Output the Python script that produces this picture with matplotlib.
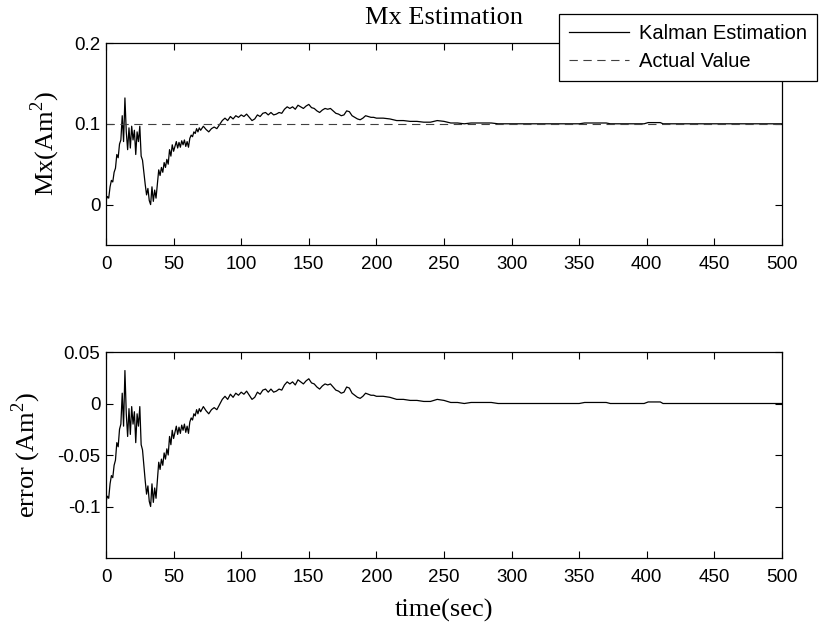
import numpy as np
import matplotlib.pyplot as plt

# time axis (sec) and Kalman estimate of Mx (Am^2)
t = [0, 1, 2, 3, 4, 5, 6, 7, 8, 9, 10, 11, 12, 13, 14, 15, 16, 17, 18, 19,
     20, 21, 22, 23, 24, 25, 26, 27, 28, 29, 30, 31, 32, 33, 34, 35, 36, 37, 38, 39,
     40, 41, 42, 43, 44, 45, 46, 47, 48, 49, 50, 51, 52, 53, 54, 55, 56, 57, 58, 59,
     60, 61, 62, 63, 64, 65, 66, 67, 68, 69, 70,
     72, 74, 76, 78, 80, 82, 84, 86, 88, 90, 92, 94, 96, 98, 100,
     102, 104, 106, 108, 110, 112, 114, 116, 118, 120, 122, 124, 126, 128, 130,
     132, 134, 136, 138, 140, 142, 144, 146, 148, 150, 152, 154, 156, 158, 160,
     162, 164, 166, 168, 170, 172, 174, 176, 178, 180, 182, 184, 186, 188, 190,
     192, 194, 196, 198, 200, 205, 210, 215, 220, 225, 230, 235, 240, 245, 250,
     255, 260, 265, 270, 275, 280, 285, 290, 300, 320, 340, 350, 354, 370, 373,
     398, 401, 410, 412, 450, 500]
mx = [0.005, 0.010, 0.008, 0.022, 0.030, 0.028, 0.040, 0.045, 0.062, 0.058,
      0.075, 0.080, 0.110, 0.078, 0.132, 0.090, 0.068, 0.095, 0.070, 0.097,
      0.080, 0.092, 0.062, 0.090, 0.078, 0.097, 0.060, 0.055, 0.040, 0.025,
      0.012, 0.020, 0.005, 0.000, 0.022, 0.004, 0.018, 0.008, 0.025, 0.043,
      0.036, 0.046, 0.040, 0.052, 0.046, 0.056, 0.050, 0.068, 0.060, 0.074,
      0.066, 0.072, 0.078, 0.070, 0.077, 0.071, 0.079, 0.074, 0.080, 0.072,
      0.078, 0.071, 0.082, 0.086, 0.084, 0.090, 0.088, 0.094, 0.090, 0.095, 0.092,
      0.097, 0.093, 0.090, 0.094, 0.096, 0.094, 0.099, 0.104, 0.107, 0.104,
      0.109, 0.106, 0.110, 0.108, 0.111,
      0.109, 0.112, 0.108, 0.104, 0.106, 0.111, 0.109, 0.113, 0.114, 0.111,
      0.114, 0.111, 0.112, 0.114, 0.113,
      0.118, 0.121, 0.119, 0.121, 0.118, 0.123, 0.121, 0.119, 0.122, 0.124,
      0.120, 0.119, 0.116, 0.114, 0.117,
      0.119, 0.118, 0.119, 0.116, 0.113, 0.112, 0.110, 0.111, 0.116, 0.115,
      0.110, 0.108, 0.106, 0.105, 0.107,
      0.110, 0.109, 0.108, 0.108, 0.107, 0.107, 0.106, 0.104, 0.104, 0.103,
      0.103, 0.102, 0.102, 0.104, 0.103,
      0.101, 0.101, 0.100, 0.101, 0.101, 0.101, 0.101, 0.100, 0.100, 0.100,
      0.100, 0.100, 0.101, 0.101, 0.100,
      0.100, 0.1015, 0.1015, 0.100, 0.100, 0.100]
actual = 0.1

t = np.array(t)
mx = np.array(mx)
err = mx - actual

plt.rcParams['font.family'] = 'Liberation Sans'
plt.rcParams['axes.unicode_minus'] = False
plt.rcParams['lines.scale_dashes'] = False
plt.rcParams['mathtext.fontset'] = 'custom'
plt.rcParams['mathtext.rm'] = 'Liberation Serif'

serif = {'family': 'Liberation Serif', 'size': 19}

fig = plt.figure(figsize=(8.19, 6.24), dpi=100)
ax1 = fig.add_axes([106/819, 1-245/624, 676/819, 202/624])
ax2 = fig.add_axes([106/819, 1-558/624, 676/819, 206/624])

ax1.plot(t, mx, color='black', lw=0.9, label='Kalman Estimation')
ax1.plot([0, 500], [actual, actual], color='0.25', lw=0.8, dashes=(6, 4), label='Actual Value')
ax1.set_xlim(0, 500)
ax1.set_ylim(-0.05, 0.2)
ax1.set_yticks([0, 0.1, 0.2])
ax1.set_yticklabels(['0', '0.1', '0.2'])
ax1.set_title('Mx Estimation', fontdict=serif, pad=14)
ax1.set_ylabel(r'Mx(Am$^\mathrm{2}$)', fontdict=serif)
ax1.yaxis.set_label_coords(-0.065, 0.5)

ax2.plot(t, err, color='black', lw=0.9)
ax2.set_xlim(0, 500)
ax2.set_ylim(-0.15, 0.05)
ax2.set_yticks([-0.1, -0.05, 0, 0.05])
ax2.set_yticklabels(['-0.1', '-0.05', '0', '0.05'])
ax2.set_ylabel(r'error (Am$^\mathrm{2}$)', fontdict=serif)
ax2.yaxis.set_label_coords(-0.093, 0.5)
ax2.set_xlabel('time(sec)', fontdict=serif)
ax2.xaxis.set_label_coords(0.5, -0.2)

for ax in (ax1, ax2):
    ax.set_xticks(range(0, 501, 50))
    ax.tick_params(direction='in', length=5, width=0.8, top=True, right=True, labelsize=13.5)
    ax.tick_params(axis='x', pad=8)
    ax.tick_params(axis='y', pad=4)
    for s in ax.spines.values():
        s.set_linewidth(0.9)

leg = ax1.legend(loc='upper left', bbox_to_anchor=(559/819, 1-14/624),
                 bbox_transform=fig.transFigure, fontsize=14.5, fancybox=False,
                 edgecolor='black', framealpha=1, borderaxespad=0, borderpad=0.5,
                 handlelength=3.0, handletextpad=0.45, labelspacing=0.45)
leg.get_frame().set_linewidth(0.9)

fig.savefig('out.png', dpi=100)
